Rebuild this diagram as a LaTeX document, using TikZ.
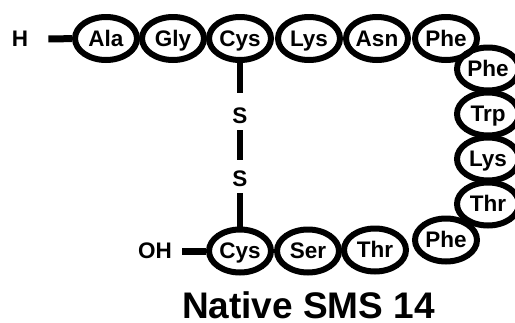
\documentclass[tikz,border=0pt]{standalone}
\usepackage{fontspec}
\setmainfont{Liberation Sans}
\usetikzlibrary{shapes.geometric}
\tikzset{
  residue/.style={ellipse, draw, line width=6pt, minimum width=62pt,
    minimum height=43pt, inner sep=0pt, text height=15.5pt, text depth=0pt,
    font=\fontsize{22.5}{22.5}\selectfont\bfseries},
  atom/.style={inner sep=0pt, text height=15.5pt, text depth=0pt,
    font=\fontsize{22.5}{22.5}\selectfont\bfseries},
  bond/.style={line width=7pt},
  sbond/.style={line width=6.5pt}
}
\begin{document}
\begin{tikzpicture}[x=1pt,y=-1pt]
\useasboundingbox (0,0) rectangle (515,322);
\begin{scope}
\clip (0,0) rectangle (515,322);
% upper chain
\node[atom] (H) at (20,39) {H};
\node[residue] (r1) at (106,38.5) {Ala};
\node[residue] (r2) at (173,38.5) {Gly};
\node[residue] (r3) at (240,38.5) {Cys};
\node[residue] (r4) at (309,38.5) {Lys};
\node[residue] (r5) at (377,38.5) {Asn};
\node[residue] (r6) at (446,38.5) {Phe};
% right-hand column
\node[residue] (r7) at (488,69) {Phe};
\node[residue] (r8) at (488,114) {Trp};
\node[residue] (r9) at (488,159) {Lys};
\node[residue] (r10) at (488,204) {Thr};
% lower chain
\node[residue] (r11) at (446,240) {Phe};
\node[residue] (r12) at (375,250) {Thr};
\node[residue] (r13) at (308,251) {Ser};
\node[residue] (r14) at (240,251) {Cys};
\node[atom] (OH) at (155,251) {OH};
\end{scope}
% termini
\draw[bond, shorten <=20pt] (H) -- (r1);
\draw[bond, shorten <=10pt] (OH) -- (r14);
% disulfide bridge
\node[atom] (S1) at (240,116) {S};
\node[atom] (S2) at (240,179) {S};
\draw[sbond, shorten >=15pt] (r3) -- (S1);
\draw[sbond, shorten <=6.5pt, shorten >=11pt] (S1) -- (S2);
\draw[sbond, shorten <=6.5pt] (S2) -- (r14);
% caption
\node[inner sep=0pt, anchor=base, font=\fontsize{37}{37}\selectfont\bfseries] (title) at (308.5,318) {Native SMS 14};
\end{tikzpicture}
\end{document}
